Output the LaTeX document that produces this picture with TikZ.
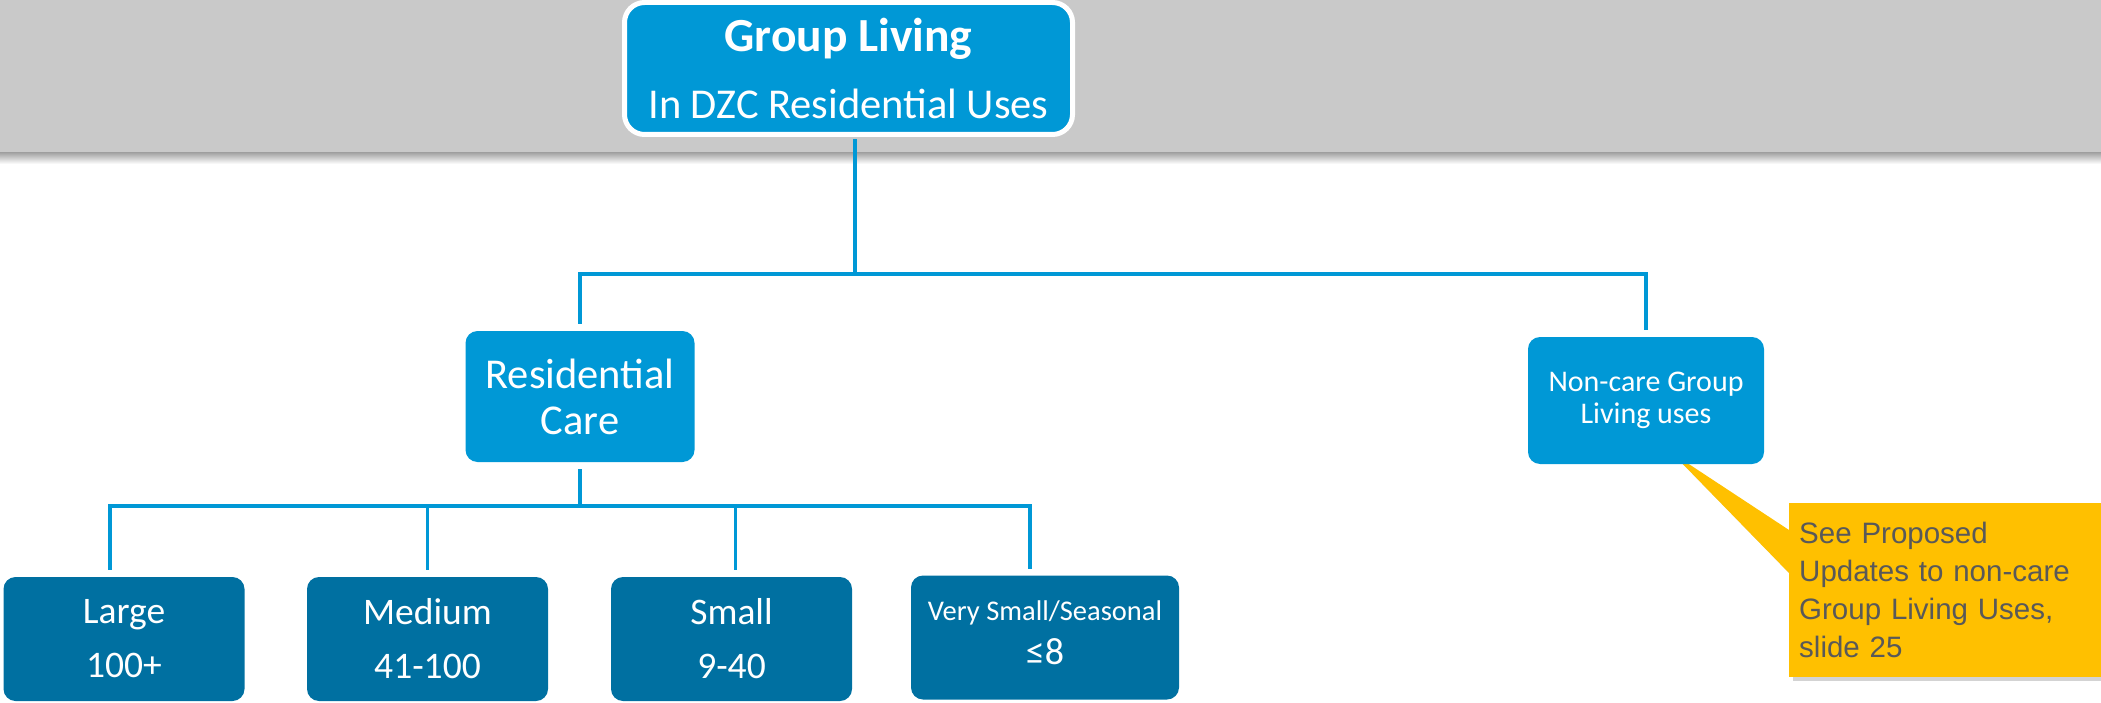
\documentclass[tikz,border=0pt]{standalone}
\usepackage{fontspec}
\setmainfont{Carlito}
\newfontfamily\notefont{Liberation Sans}
\usetikzlibrary{shadows,backgrounds,calc}
\definecolor{bandgray}{RGB}{201,201,201}
\definecolor{topblue}{RGB}{0,152,214}
\definecolor{deepblue}{RGB}{0,112,161}
\definecolor{noteyellow}{RGB}{255,192,0}
\definecolor{notetext}{RGB}{89,89,89}
\tikzstyle{headbox}=[rectangle,rounded corners=20pt,fill=topblue,draw=white,line width=5pt,minimum width=448pt,minimum height=132pt,text=white,align=center,inner sep=0pt,outer sep=5pt]
\tikzstyle{midbox}=[rectangle,rounded corners=12pt,fill=topblue,text=white,align=center,inner sep=0pt,outer sep=7pt]
\tikzstyle{lowbox}=[midbox,fill=deepblue,minimum width=241pt,minimum height=124pt]
\tikzstyle{tree}=[draw=topblue,line width=3.5pt]
\tikzstyle{notebox}=[rectangle,fill=noteyellow,text=notetext,align=left,text width=300pt,minimum height=174pt,inner xsep=10pt,inner ysep=0pt,font=\notefont\fontsize{29.5}{38}\selectfont]
\tikzstyle{softshadow}=[drop shadow={shadow xshift=4pt,shadow yshift=-4pt,opacity=0.35}]

\begin{document}
\begin{tikzpicture}[x=1pt,y=-1pt]
\useasboundingbox (0,0) rectangle (2101,703);
% grey band at the top
\fill[bandgray] (-10,-10) rectangle (2111,153);
\shade[top color=black!35,bottom color=white] (-10,153) rectangle (2111,164);

\node[headbox,font=\fontsize{42.5}{67}\selectfont] (group) at (848.5,68.5) {{\fontsize{47.5}{67}\selectfont\bfseries Group Living}\\In DZC Residential Uses};
\node[midbox,minimum width=229pt,minimum height=131pt,font=\fontsize{42.5}{46}\selectfont] (resc) at (580,396.5) {Residential\\Care};
\node[midbox,minimum width=236pt,minimum height=127pt,font=\fontsize{30}{32}\selectfont] (nonc) at (1646,400.5) {Non-care Group\\Living uses};

\node[lowbox,font=\fontsize{37.5}{54}\selectfont] (large) at (124,639) {Large\\100+};
\node[lowbox,font=\fontsize{37.5}{54}\selectfont] (medium) at (427.5,639) {Medium\\41-100};
\node[lowbox,font=\fontsize{37.5}{54}\selectfont] (small) at (731.5,639) {Small\\9-40};
\node[lowbox,minimum width=268pt,font=\fontsize{28.5}{44}\selectfont] (vsmall) at (1045,637.5) {Very Small/Seasonal\\{\fontsize{38}{44}\selectfont ≤8}\rule[-10pt]{0pt}{0pt}};

% tree lines
\coordinate (j1) at (855,274);
\coordinate (j2) at (580,506);
\draw[tree] (group.south -| j1) -- (j1);
\draw[tree] (j1) -| (resc.north);
\draw[tree] (j1) -| (nonc.north);
\draw[tree] (resc.south) -- (j2);
\draw[tree] (j2) -| ([xshift=-14pt]large.north);
\draw[tree] (j2) -| (medium.north);
\draw[tree] (j2) -| ([xshift=4pt]small.north);
\draw[tree] (j2) -| ([xshift=-15pt]vsmall.north);

% callout
\coordinate (tip) at (1672,453);
\node[notebox,softshadow,anchor=north west] (seeup) at (1789,503) {See Proposed\\Updates to non-care\\Group Living Uses,\\slide 25};
\begin{scope}[on background layer]
\fill[noteyellow,softshadow] (tip) -- ($(seeup.north west)+(0,27)$) -- ($(seeup.north west)+(20,27)$) -- ($(seeup.north west)+(20,70)$) -- ($(seeup.north west)+(0,70)$) -- cycle;
\end{scope}
\end{tikzpicture}
\end{document}
